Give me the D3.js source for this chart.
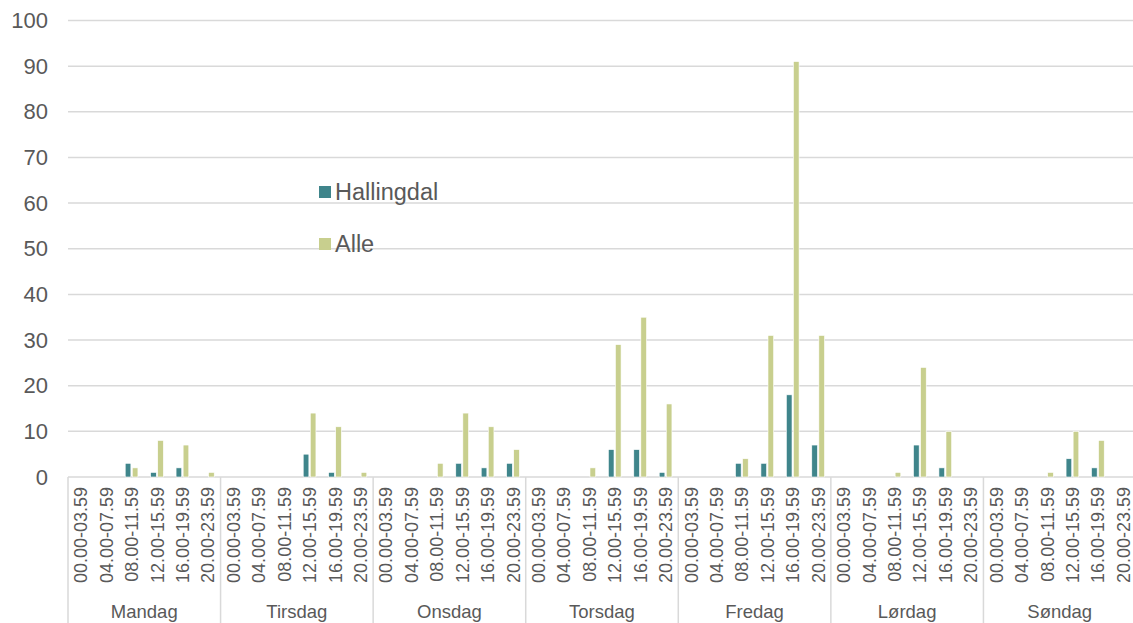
<!DOCTYPE html>
<html>
<head>
<meta charset="utf-8">
<script src="https://cdn.jsdelivr.net/npm/d3@7"></script>
<style>
  html, body { margin: 0; padding: 0; background: #fff; }
  svg { display: block; font-family: "Liberation Sans", Arial, sans-serif; }
</style>
</head>
<body>
<svg id="chart" width="1133" height="623"></svg>
<script>
const days = ["Mandag", "Tirsdag", "Onsdag", "Torsdag", "Fredag", "Lørdag", "Søndag"];
const slots = ["00.00-03.59", "04.00-07.59", "08.00-11.59", "12.00-15.59", "16.00-19.59", "20.00-23.59"];
const seriesNames = ["Hallingdal", "Alle"];
// one row per day, one value per time slot
const hallingdal = [
  [0, 0, 3, 1, 2, 0],
  [0, 0, 0, 5, 1, 0],
  [0, 0, 0, 3, 2, 3],
  [0, 0, 0, 6, 6, 1],
  [0, 0, 3, 3, 18, 7],
  [0, 0, 0, 7, 2, 0],
  [0, 0, 0, 4, 2, 0]
];
const alle = [
  [0, 0, 2, 8, 7, 1],
  [0, 0, 0, 14, 11, 1],
  [0, 0, 3, 14, 11, 6],
  [0, 0, 2, 29, 35, 16],
  [0, 0, 4, 31, 91, 31],
  [0, 0, 1, 24, 10, 0],
  [0, 0, 1, 10, 8, 0]
];
const yTicks = [0, 10, 20, 30, 40, 50, 60, 70, 80, 90, 100];

const colors = { Hallingdal: "#3f858b", Alle: "#c8cf8e" };
const textColor = "#595959";
const gridColor = "#d9d9d9";

const svg = d3.select("#chart");
const plotLeft = 68, plotRight = 1136, plotTop = 20.5, plotBottom = 477;

const y = d3.scaleLinear().domain([0, 100]).range([plotBottom, plotTop]);
const xDay = d3.scaleBand().domain(days).range([plotLeft, plotRight]).padding(0);
const xSlot = d3.scaleBand().domain(slots).range([0, xDay.bandwidth()]).padding(0);
const xSeries = d3.scaleBand().domain(seriesNames).range([0, xSlot.bandwidth()]).paddingInner(0.2).paddingOuter(0.9);

// horizontal gridlines
svg.append("g")
  .selectAll("line")
  .data(yTicks)
  .join("line")
  .attr("x1", plotLeft).attr("x2", plotRight)
  .attr("y1", d => y(d)).attr("y2", d => y(d))
  .attr("stroke", gridColor).attr("stroke-width", 1.5);

// y axis labels
const yAxis = d3.axisLeft(y).tickValues(yTicks).tickSize(0).tickPadding(20);
svg.append("g")
  .attr("transform", `translate(${plotLeft},0)`)
  .call(yAxis)
  .call(g => g.select(".domain").remove())
  .call(g => g.selectAll("text")
    .attr("fill", textColor)
    .attr("font-size", 22)
    .attr("font-family", "Liberation Sans, Arial, sans-serif"));

// bars
const rows = [];
days.forEach((day, di) => {
  slots.forEach((slot, si) => {
    rows.push({ day, slot, series: "Hallingdal", value: hallingdal[di][si] });
    rows.push({ day, slot, series: "Alle", value: alle[di][si] });
  });
});

svg.append("g")
  .selectAll("rect")
  .data(rows.filter(d => d.value > 0))
  .join("rect")
  .attr("x", d => xDay(d.day) + xSlot(d.slot) + xSeries(d.series))
  .attr("width", xSeries.bandwidth())
  .attr("y", d => y(d.value))
  .attr("height", d => y(0) - y(d.value))
  .attr("fill", d => colors[d.series])
  .attr("stroke", "#ffffff")
  .attr("stroke-width", 0.6);

// category axis: separators between days
const sepX = days.map(d => xDay(d));
svg.append("g")
  .selectAll("line")
  .data(sepX)
  .join("line")
  .attr("x1", d => d).attr("x2", d => d)
  .attr("y1", plotBottom).attr("y2", 623)
  .attr("stroke", gridColor).attr("stroke-width", 1.5);

// time-slot labels (rotated)
const slotG = svg.append("g");
days.forEach(day => {
  slots.forEach(slot => {
    const cx = xDay(day) + xSlot(slot) + xSlot.bandwidth() / 2;
    slotG.append("text")
      .attr("transform", `translate(${cx + 6.5},${plotBottom + 10}) rotate(-90)`)
      .attr("text-anchor", "end")
      .attr("fill", textColor)
      .attr("font-size", 18)
      .text(slot);
  });
});

// day labels
svg.append("g")
  .selectAll("text")
  .data(days)
  .join("text")
  .attr("x", d => xDay(d) + xDay.bandwidth() / 2)
  .attr("y", 618)
  .attr("text-anchor", "middle")
  .attr("fill", textColor)
  .attr("font-size", 18.5)
  .text(d => d);

// legend
const legend = svg.append("g");
seriesNames.forEach((name, i) => {
  const ly = 192 + i * 52;
  legend.append("rect")
    .attr("x", 319).attr("y", ly - 6)
    .attr("width", 12).attr("height", 12)
    .attr("fill", colors[name]);
  legend.append("text")
    .attr("x", 335).attr("y", ly + 8)
    .attr("fill", textColor)
    .attr("font-size", 23.5)
    .text(name);
});
</script>
</body>
</html>
